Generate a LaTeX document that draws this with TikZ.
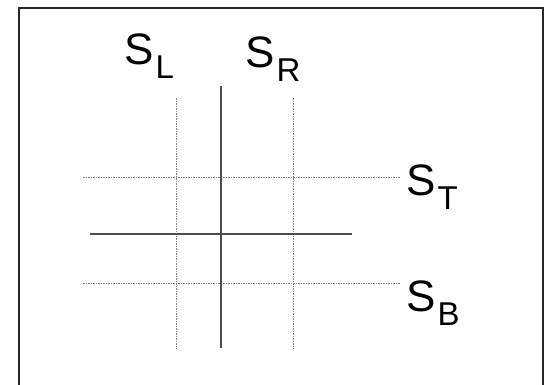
\documentclass[tikz,border=0pt]{standalone}
\usepackage{fontspec}
\setmainfont{Liberation Sans}
\usetikzlibrary{positioning}
\newcommand{\sensorlbl}[1]{S\kern2pt\raisebox{-14pt}{\fontsize{33}{33}\selectfont #1}}
\tikzset{
  frameline/.style={draw=black!85, line width=2pt},
  wireline/.style={draw=black!70, line width=1.6pt},
  sweepline/.style={draw=black!50, line width=1pt, dash pattern=on 1.5pt off 1pt},
  sensortag/.style={inner sep=0pt, anchor=base west, font=\fontsize{44}{44}\selectfont}
}
\begin{document}
\begin{tikzpicture}[x=1pt, y=-1pt]
  \useasboundingbox (0,0) rectangle (547,384);
  % frame
  \draw[frameline] (19,392) -- (19,8) -- (543,8) -- (543,392);
  % dotted sensor lines
  \coordinate (lTop) at (176,98);   \coordinate (lBot) at (176,349);
  \coordinate (rTop) at (293,98);   \coordinate (rBot) at (293,349);
  \coordinate (tLeft) at (83,177);  \coordinate (tRight) at (400,177);
  \coordinate (bLeft) at (83,283);  \coordinate (bRight) at (400,283);
  \draw[sweepline] (lTop) -- (lBot);
  \draw[sweepline] (rTop) -- (rBot);
  \draw[sweepline] (tLeft) -- (tRight);
  \draw[sweepline] (bLeft) -- (bRight);
  % solid cross
  \coordinate (vTop) at (221,86);   \coordinate (vBot) at (221,348);
  \coordinate (hLeft) at (90,234);  \coordinate (hRight) at (352,234);
  \draw[wireline] (vTop) -- (vBot);
  \draw[wireline] (hLeft) -- (hRight);
  % labels
  \node[sensortag] (sL) at (124,64) {\sensorlbl{L}};
  \node[sensortag] (sR) at (245,67) {\sensorlbl{R}};
  \node[sensortag] (sT) at (406,195) {\sensorlbl{T}};
  \node[sensortag] (sB) at (406,311) {\sensorlbl{B}};
\end{tikzpicture}
\end{document}
